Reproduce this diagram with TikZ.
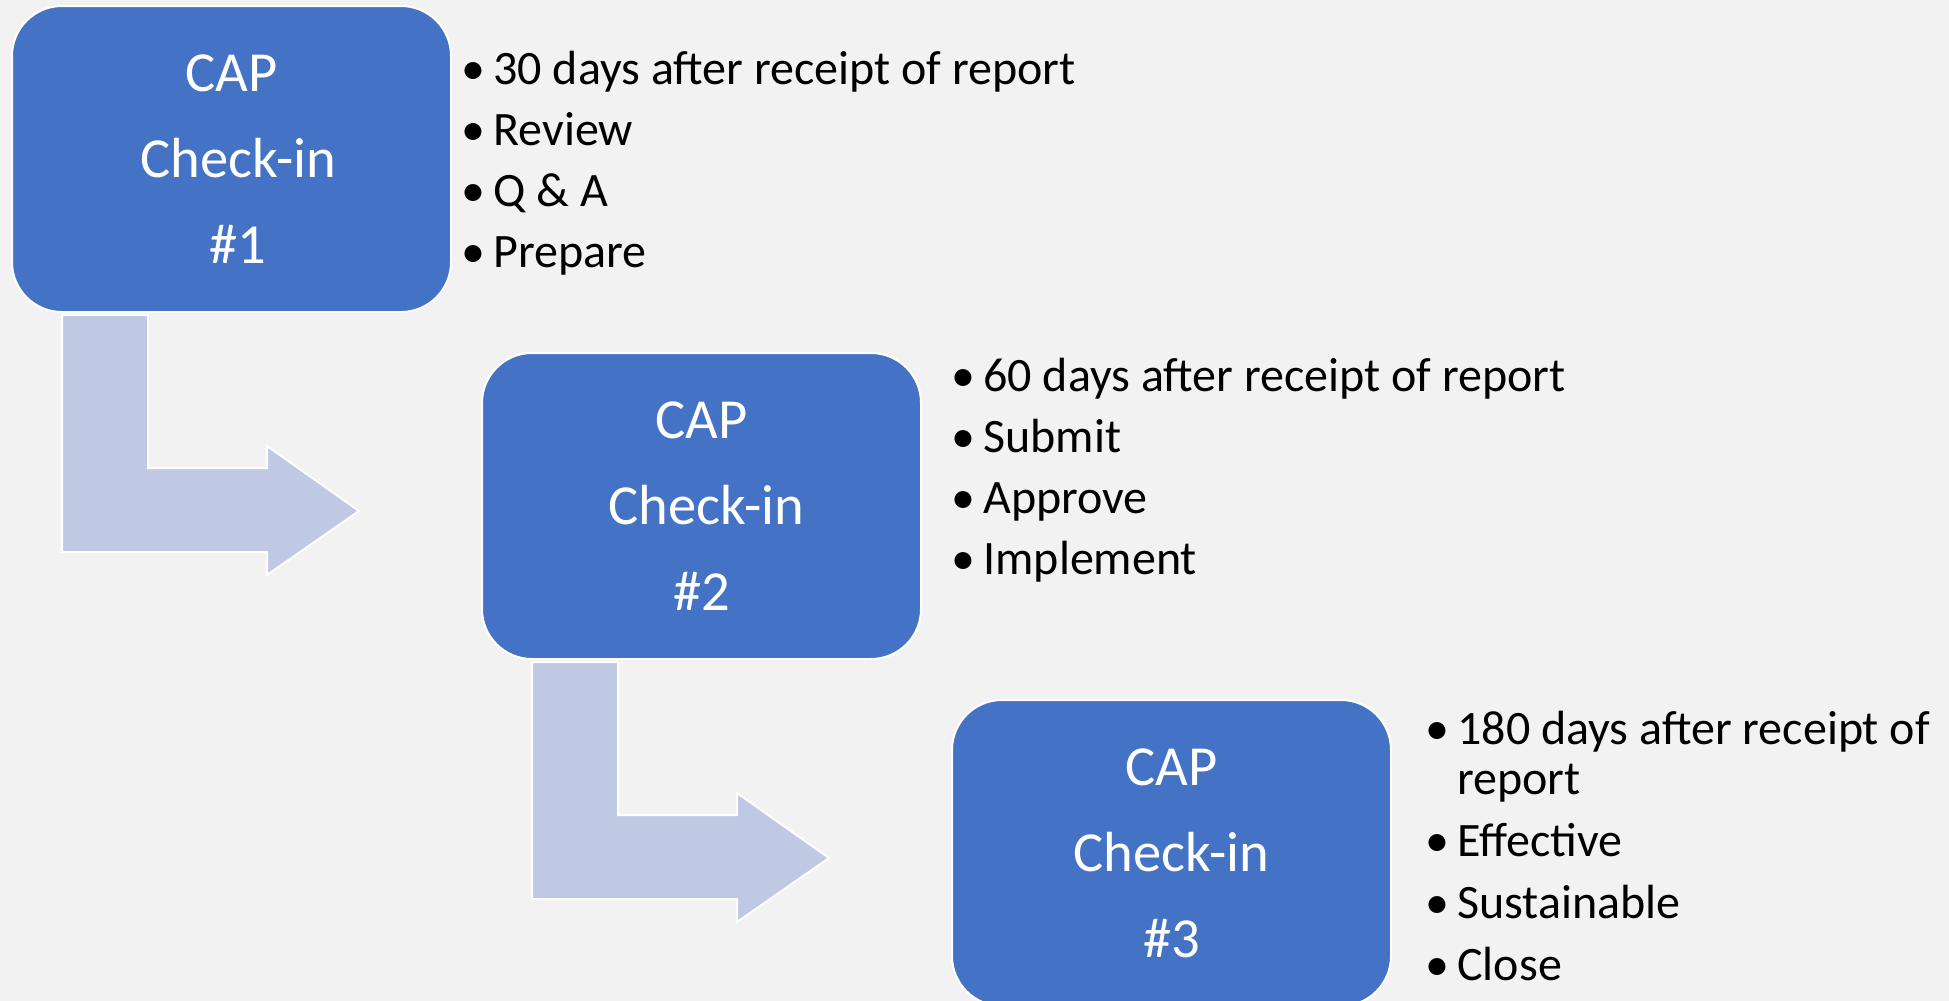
\documentclass[tikz,border=0pt]{standalone}
\usepackage{fontspec}
\setmainfont{Carlito}
\usetikzlibrary{positioning}

\definecolor{capblue}{RGB}{68,114,196}
\definecolor{flowblue}{RGB}{191,201,227}
\definecolor{pagegrey}{RGB}{242,242,242}

\tikzset{
  checkin/.style={draw=white, line width=1pt, fill=capblue, text=white,
    rounded corners=25pt, minimum width=219.5pt, minimum height=153pt,
    align=center, font=\fontsize{28.3}{43}\selectfont},
  notes/.style={anchor=north west, inner sep=0pt, align=left,
    font=\fontsize{24}{30.5}\selectfont},
  bent/.style={fill=flowblue, draw=white, line width=1pt}
}
\newcommand{\bul}{\makebox[16pt][l]{•}}

\begin{document}
\begin{tikzpicture}
[x=0.5pt, y=-0.5pt, node distance=173.5pt and 235pt, on grid]

\clip (0,0) rectangle (1949,1001);
\fill[pagegrey] (0,0) rectangle (1949,1001);

\node [checkin] (cap1) at (231.5,159) {CAP\\\hspace*{7pt}Check-in\\\hspace*{6pt}\#1};
\node [checkin, below right=of cap1] (cap2) {CAP\\\hspace*{5pt}Check-in\\\#2};
\node [checkin, below right=of cap2] (cap3) {CAP\\Check-in\\\#3};

\node [notes, xshift=4.5pt, yshift=-23pt] (notes1) at (cap1.north east)
{\bul 30 days after receipt of report\\ \bul Review\\ \bul Q \& A\\ \bul Prepare};
\node [notes, xshift=14.5pt, yshift=-3pt] (notes2) at (cap2.north east)
{\bul 60 days after receipt of report\\ \bul Submit\\ \bul Approve\\ \bul Implement};
\node [notes, xshift=16.5pt, yshift=-6pt, font=\fontsize{24}{31}\selectfont] (notes3)
at (cap3.north east)
{\bul 180 days after receipt of\\[-6pt] \hspace*{16pt}report\\ \bul Effective\\
\bul Sustainable\\ \bul Close};

% bent arrows from one check-in to the next
\draw[bent, shift={(cap1.south west)}] (51,2) -- (137,2) -- (137,155) -- (256,155)
  -- (256,133) -- (348,198) -- (256,262) -- (256,239) -- (51,239) -- cycle;
\draw[bent, shift={(cap2.south west)}] (51,2) -- (137,2) -- (137,155) -- (256,155)
  -- (256,133) -- (348,198) -- (256,262) -- (256,239) -- (51,239) -- cycle;

\end{tikzpicture}
\end{document}
